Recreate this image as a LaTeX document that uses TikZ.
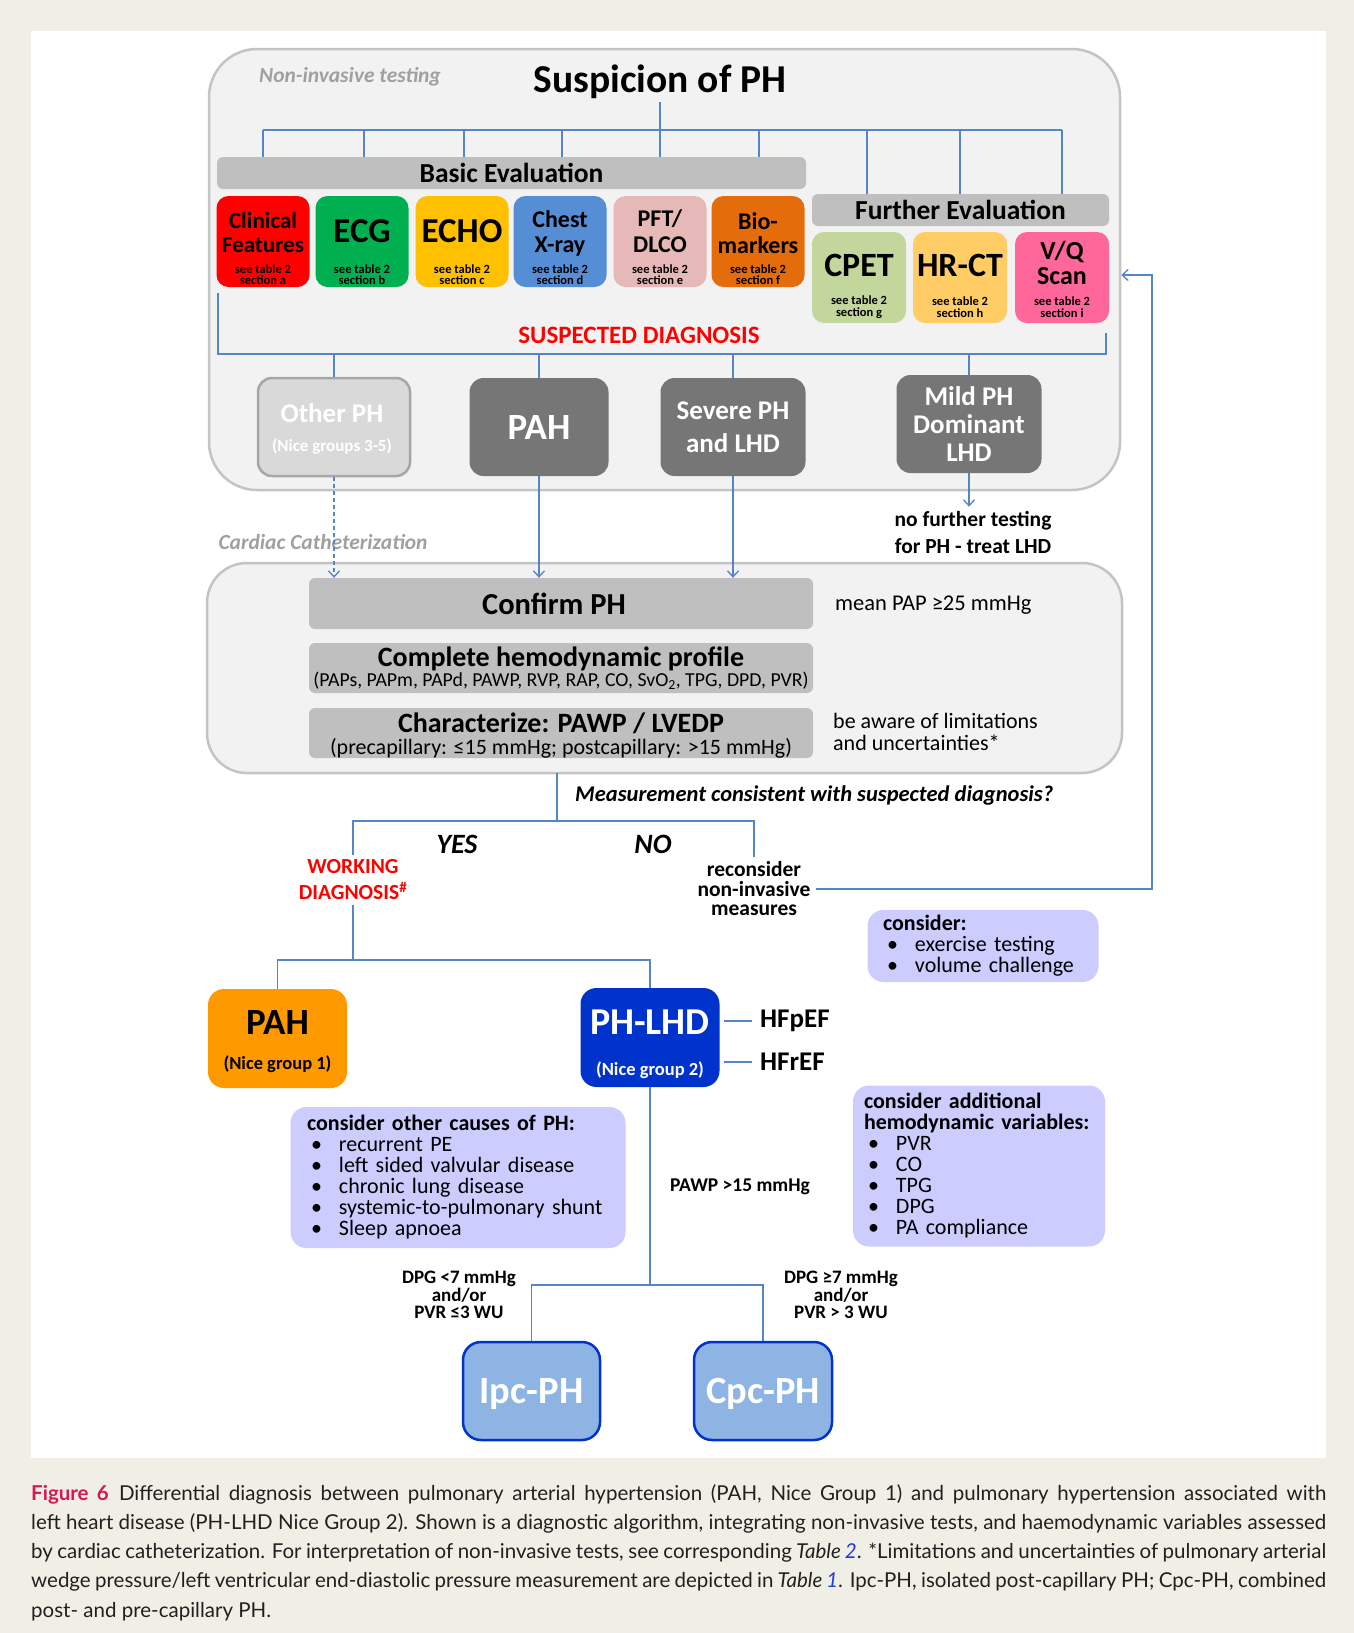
\documentclass[tikz,border=0pt]{standalone}
\usepackage{fontspec}
\setmainfont{Carlito}
\newfontfamily\captionfont{Lato}
\usetikzlibrary{arrows.meta}

\definecolor{pagebg}{RGB}{239,239,229}
\definecolor{framefill}{RGB}{242,242,242}
\definecolor{frameline}{RGB}{196,196,196}
\definecolor{bargrey}{RGB}{191,191,191}
\definecolor{dxgrey}{RGB}{118,118,118}
\definecolor{othergrey}{RGB}{217,217,217}
\definecolor{otherline}{RGB}{166,166,166}
\definecolor{linkblue}{RGB}{84,133,196}
\definecolor{clinred}{RGB}{255,0,0}
\definecolor{ecggreen}{RGB}{0,176,80}
\definecolor{echogold}{RGB}{255,192,0}
\definecolor{xrayblue}{RGB}{85,142,213}
\definecolor{pftpink}{RGB}{230,185,184}
\definecolor{bioorange}{RGB}{228,108,10}
\definecolor{cpetgreen}{RGB}{195,214,155}
\definecolor{hrctyellow}{RGB}{255,204,102}
\definecolor{vqpink}{RGB}{255,102,153}
\definecolor{pahorange}{RGB}{255,153,0}
\definecolor{lhdblue}{RGB}{0,51,204}
\definecolor{pcblue}{RGB}{142,180,227}
\definecolor{lavender}{RGB}{204,204,255}
\definecolor{figred}{RGB}{218,24,80}
\definecolor{tabblue}{RGB}{30,60,220}
\definecolor{captext}{RGB}{35,31,32}
\definecolor{labelgrey}{RGB}{160,160,160}
\definecolor{suspred}{RGB}{255,0,0}

\newcommand{\fsz}[2]{\fontsize{#1}{#2}\selectfont}
\newcommand{\bul}{\hspace*{4pt}\makebox[28pt][l]{•}}

\begin{document}
\begin{tikzpicture}[x=1pt, y=-1pt,
    stageframe/.style={draw=frameline, line width=2.5pt, fill=framefill, rounded corners=48pt},
    bar/.style={fill=bargrey, rounded corners=6pt, inner sep=0pt, align=center},
    testbox/.style={rounded corners=12pt, minimum width=93pt, minimum height=91pt, inner sep=0pt},
    testname/.style={align=center, inner sep=0pt},
    seetab/.style={align=center, inner sep=0pt, font=\fsz{12.5}{11.5}\bfseries},
    dxbox/.style={fill=dxgrey, rounded corners=14pt, minimum height=98pt, text=white, align=center, inner sep=0pt},
    dxname/.style={text=white, align=center, inner sep=0pt},
    conn/.style={draw=linkblue, line width=1.3pt},
    connarrow/.style={conn, -{Straight Barb[length=6pt,width=11pt]}},
    notetext/.style={font=\fsz{21}{21}\bfseries, align=center, inner sep=5pt},
    listbox/.style={fill=lavender, rounded corners=16pt, align=left, inner sep=0pt, font=\fsz{22}{21}},
    groupbox/.style={rounded corners=16pt, minimum width=139pt, minimum height=99pt, inner sep=0pt},
    resultbox/.style={fill=pcblue, draw=lhdblue, line width=2.5pt, rounded corners=18pt, minimum width=137pt, minimum height=98pt,
                      text=white, font=\fsz{38.5}{38.5}\bfseries, text depth=0pt, text height=25pt},
    capline/.style={anchor=base west, inner sep=0pt, font=\captionfont\fsz{20.5}{29}, text=captext}
]
    \useasboundingbox (0,0) rectangle (1354,1633);
    \fill[pagebg] (0,0) rectangle (1354,1633);
    \fill[white] (31,31) rectangle (1326,1458);

    % Non-invasive testing
    \node[stageframe, minimum width=911pt, minimum height=441pt] (nit) at (664.5,269.5) {};
    \node[font=\fsz{21.5}{21.5}\bfseries\itshape, text=labelgrey] (nitlabel) at (350,77) {Non-invasive testing};
    \node[font=\fsz{39.5}{39.5}\bfseries] (susp) at (660,82) {Suspicion of PH};

    \coordinate (topbus) at (660,130);
    \draw[conn] (susp.south) -- (topbus);
    \draw[conn] (263,130) -- (1062,130);
    \foreach \x in {263,364,464,562,660,759}
        \draw[conn] (\x,130) -- (\x,157);
    \foreach \x in {867,960,1062}
        \draw[conn] (\x,130) -- (\x,194);

    \node[bar, minimum width=589pt, minimum height=32pt, font=\fsz{27.5}{27.5}\bfseries] (basic) at (511.5,173) {Basic Evaluation};
    \node[bar, minimum width=297pt, minimum height=32pt, font=\fsz{27.5}{27.5}\bfseries] (further) at (960.5,210) {Further Evaluation};

    \foreach \name/\x/\col/\sec in {clin/263/clinred/a, ecg/362/ecggreen/b, echo/462/echogold/c,
                                   xray/560/xrayblue/d, pft/660/pftpink/e, bio/758/bioorange/f}
    {
        \node[testbox, fill=\col] (\name) at (\x,241.5) {};
        \node[seetab] (\name-see) at (\x,274.5) {see table 2\\section \sec};
    }
    \node[testname, font=\fsz{23}{24}\bfseries] (clin-t) at (263,233) {Clinical\\Features};
    \node[testname, font=\fsz{35}{35}\bfseries] (ecg-t) at (362,231) {ECG};
    \node[testname, font=\fsz{35}{35}\bfseries] (echo-t) at (462,231) {ECHO};
    \node[testname, font=\fsz{24}{25}\bfseries] (xray-t) at (560,233) {Chest\\X-ray};
    \node[testname, font=\fsz{24}{26}\bfseries] (pft-t) at (660,231) {PFT/\\DLCO};
    \node[testname, font=\fsz{24}{24}\bfseries] (bio-t) at (758,233) {Bio-\\markers};

    \foreach \name/\x/\col/\sec in {cpet/859/cpetgreen/g, hrct/960/hrctyellow/h, vq/1062/vqpink/i}
    {
        \node[testbox, minimum width=94pt, fill=\col] (\name) at (\x,277.5) {};
        \node[seetab] (\name-see) at (\x,307) {see table 2\\section \sec};
    }
    \node[testname, font=\fsz{34}{34}\bfseries] (cpet-t) at (859,265) {CPET};
    \node[testname, font=\fsz{34}{34}\bfseries] (hrct-t) at (960,265) {HR-CT};
    \node[testname, font=\fsz{26}{25}\bfseries] (vq-t) at (1062,263) {V/Q\\Scan};

    % suspected diagnosis
    \node[font=\fsz{25}{25}\bfseries, text=suspred] (susdx) at (639,335) {SUSPECTED DIAGNOSIS};
    \coordinate (dxbus) at (660,354);
    \draw[conn] (218,293) |- (1106,354) -- (1106,333);

    \node[dxbox, fill=othergrey, draw=otherline, line width=2.5pt, minimum width=152pt] (other) at (334,427) {};
    \node[dxname, font=\fsz{27}{27}\bfseries] (other-t) at (332,413) {Other PH};
    \node[dxname, font=\fsz{17}{17}\bfseries] (other-s) at (332,447) {(Nice groups 3-5)};
    \node[dxbox, minimum width=139pt, font=\fsz{37}{37}\bfseries] (pahdx) at (539,427) {PAH};
    \node[dxbox, minimum width=145pt, font=\fsz{27}{33}\bfseries] (severe) at (733,427) {Severe PH\\and LHD};
    \node[dxbox, minimum width=145pt, font=\fsz{27}{28}\bfseries] (mild) at (969,424) {Mild PH\\Dominant\\LHD};
    \foreach \n in {other,pahdx,severe,mild}
        \draw[conn] (\n.north |- dxbus) -- (\n.north);

    \node[notetext, font=\fsz{21.5}{27}\bfseries] (nofurther) at (973,533) {no further testing\\for PH - treat LHD};
    \draw[connarrow] (mild.south) -- (mild.south |- nofurther.north);

    % Cardiac catheterization
    \node[font=\fsz{21.5}{21.5}\bfseries\itshape, text=labelgrey] (cclabel) at (323,542) {Cardiac Catheterization};
    \node[stageframe, rounded corners=40pt, minimum width=915pt, minimum height=210pt] (cath) at (664.5,668) {};

    \node[bar, minimum width=504pt, minimum height=51pt, font=\fsz{30.5}{30.5}\bfseries] (confirm) at (561,603.5) {\hspace*{-14pt}Confirm PH};
    \node[bar, minimum width=504pt, minimum height=50pt] (profile) at (561,668)
        {\fsz{28}{22}\bfseries Complete hemodynamic profile\\
         \fsz{19.8}{22}(PAPs, PAPm, PAPd, PAWP, RVP, RAP, CO, SvO\textsubscript{2}, TPG, DPD, PVR)};
    \node[bar, minimum width=504pt, minimum height=50pt] (charact) at (561,733) {};
    \node[inner sep=0pt, font=\fsz{28}{28}\bfseries] (charact-t) at (561,723) {Characterize: PAWP / LVEDP};
    \node[inner sep=0pt, font=\fsz{22}{22}] (charact-s) at (561,748) {(precapillary: ≤15 mmHg; postcapillary: >15 mmHg)};

    \draw[connarrow, dash pattern=on 4pt off 3pt] (other.south) -- (other.south |- confirm.north);
    \draw[connarrow] (pahdx.south) -- (pahdx.south |- confirm.north);
    \draw[connarrow] (severe.south) -- (severe.south |- confirm.north);

    \node[anchor=west, inner sep=0pt, font=\fsz{22.5}{22.5}] (meanpap) at (835,605) {mean PAP ≥25 mmHg};
    \node[anchor=west, inner sep=0pt, align=left, font=\fsz{22}{22}] (aware) at (833,732) {be aware of limitations\\and uncertainties*};

    % decision
    \coordinate (decide) at (557,821);
    \node[anchor=west, inner sep=0pt, font=\fsz{22.5}{22.5}\bfseries\itshape] (question) at (575,795) {Measurement consistent with suspected diagnosis?};
    \node[font=\fsz{28}{28}\bfseries\itshape] (yes) at (457,844) {YES};
    \node[font=\fsz{28}{28}\bfseries\itshape] (no) at (653,844) {NO};
    \node[notetext, font=\fsz{21.5}{26}\bfseries, text=suspred] (working) at (353,880) {WORKING\\DIAGNOSIS\textsuperscript{\#}};
    \node[notetext, font=\fsz{21.5}{19.5}\bfseries] (recons) at (754,889) {reconsider\\non-invasive\\measures};

    \draw[conn] (557,773) -- (decide);
    \draw[conn] (working.north) |- (recons.north |- decide) -- (recons.north);

    \coordinate (back) at (1152,275);
    \draw[connarrow] (recons.east) -| (back) -- (nit.east |- back);

    \node[listbox, minimum width=231pt, minimum height=72pt, text width=200pt] (consider1) at (983,946)
        {\textbf{consider:}\\ \bul exercise testing\\ \bul volume challenge};

    % working diagnosis
    \coordinate (wd) at (353,960);
    \node[groupbox, fill=pahorange] (pahg1) at (277.5,1038.5) {};
    \node[inner sep=0pt, font=\fsz{37}{37}\bfseries] (pahg1-t) at (277.5,1022) {PAH};
    \node[inner sep=0pt, font=\fsz{18.5}{18.5}\bfseries] (pahg1-s) at (277.5,1064) {(Nice group 1)};
    \node[groupbox, fill=lhdblue] (phlhd) at (650,1037.5) {};
    \node[inner sep=0pt, text=white, font=\fsz{38}{38}\bfseries] (phlhd-t) at (650,1022) {PH-LHD};
    \node[inner sep=0pt, text=white, font=\fsz{18.5}{18.5}\bfseries] (phlhd-s) at (650,1070) {(Nice group 2)};
    \draw[conn] (working.south) -- (wd);
    \draw[conn] (pahg1.north) |- (phlhd.north |- wd) -- (phlhd.north);

    \node[anchor=west, inner sep=0pt, font=\fsz{27}{27}\bfseries] (hfp) at (760,1021) {HFpEF};
    \node[anchor=west, inner sep=0pt, font=\fsz{27}{27}\bfseries] (hfr) at (760,1062) {HFrEF};
    \draw[conn, shorten <=4pt, shorten >=8pt] (phlhd.east |- hfp.west) -- (hfp.west);
    \draw[conn, shorten <=4pt, shorten >=8pt] (phlhd.east |- hfr.west) -- (hfr.west);

    \node[listbox, minimum width=335pt, minimum height=141pt, text width=302pt] (othercauses) at (458,1177.5)
        {\textbf{consider other causes of PH:}\\ \bul recurrent PE\\ \bul left sided valvular disease\\
         \bul chronic lung disease\\ \bul systemic-to-pulmonary shunt\\ \bul Sleep apnoea};
    \node[listbox, minimum width=252pt, minimum height=161pt, text width=230pt] (addvars) at (979,1166)
        {\textbf{consider additional}\\ \textbf{hemodynamic variables:}\\ \bul PVR\\ \bul CO\\ \bul TPG\\ \bul DPG\\ \bul PA compliance};

    \node[font=\fsz{19.5}{19.5}\bfseries] (pawp) at (740,1187) {PAWP >15 mmHg};

    % post-capillary split
    \coordinate (split) at (650,1285);
    \node[resultbox] (ipc) at (531.5,1391) {Ipc-PH};
    \node[resultbox, minimum width=138pt] (cpc) at (763,1391) {Cpc-PH};
    \draw[conn] (phlhd.south) -- (split);
    \draw[conn] (ipc.north) |- (cpc.north |- split) -- (cpc.north);

    \node[notetext, font=\fsz{19}{17.5}\bfseries] (dpglow) at (459,1295) {DPG <7 mmHg\\and/or\\PVR ≤3 WU};
    \node[notetext, font=\fsz{19}{17.5}\bfseries] (dpghigh) at (841,1295) {DPG ≥7 mmHg\\and/or\\PVR > 3 WU};

    % caption
    \node[capline] (cap1) at (31,1500) {\makebox[1295pt][s]{\textcolor{figred}{\bfseries Figure 6}\enspace Differential diagnosis between pulmonary arterial hypertension (PAH, Nice Group 1) and pulmonary hypertension associated with}};
    \node[capline] (cap2) at (31,1529) {\makebox[1295pt][s]{left heart disease (PH-LHD Nice Group 2). Shown is a diagnostic algorithm, integrating non-invasive tests, and haemodynamic variables assessed}};
    \node[capline] (cap3) at (31,1558) {\makebox[1295pt][s]{by cardiac catheterization. For interpretation of non-invasive tests, see corresponding \textit{Table \textcolor{tabblue}{2}}. *Limitations and uncertainties of pulmonary arterial}};
    \node[capline] (cap4) at (31,1587) {\makebox[1295pt][s]{wedge pressure/left ventricular end-diastolic pressure measurement are depicted in \textit{Table \textcolor{tabblue}{1}}. Ipc-PH, isolated post-capillary PH; Cpc-PH, combined}};
    \node[capline] (cap5) at (31,1617) {post- and pre-capillary PH.};
\end{tikzpicture}
\end{document}
